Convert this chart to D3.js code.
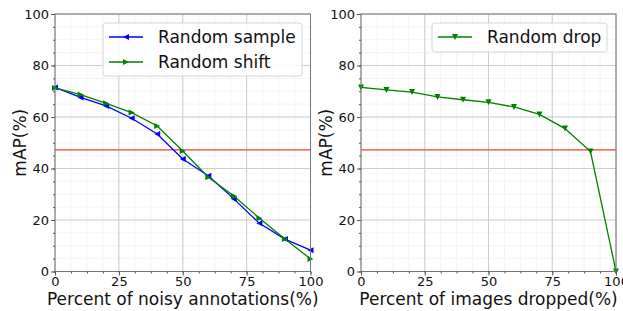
<!DOCTYPE html>
<html>
<head>
<meta charset="utf-8">
<script src="https://cdn.jsdelivr.net/npm/d3@7"></script>
<style>
  body { margin: 0; background: #fff; }
  svg { font-family: "DejaVu Sans", sans-serif; }
</style>
</head>
<body>
<svg id="chart" width="623" height="311"></svg>
<script>
// x positions (percent)
const pct = [0, 10, 20, 30, 40, 50, 60, 70, 80, 90, 100];

// left panel: noisy annotations
const randomSample = [71.5, 67.6, 64.3, 59.5, 53.4, 43.7, 37.2, 28.2, 18.7, 12.6, 8.3];
const randomShift  = [71.3, 68.7, 65.3, 61.7, 56.5, 46.8, 36.6, 29.3, 20.7, 12.6, 4.9];

// right panel: images dropped
const randomDrop = [71.5, 70.5, 69.7, 67.8, 66.7, 65.7, 63.9, 61.0, 55.5, 46.6, 0];

// baseline (red line)
const baseline = 47.2;

const xTicks = [0, 25, 50, 75, 100];
const yTicks = [0, 20, 40, 60, 80, 100];

const svg = d3.select('#chart');

const plotTop = 14, plotBottom = 271.5;
const panels = [
  { left: 55, right: 310.5, xLabel: 'Percent of noisy annotations(%)',
    series: [
      { name: 'Random sample', values: randomSample, color: '#0000ff', marker: 'left' },
      { name: 'Random shift',  values: randomShift,  color: '#008000', marker: 'right' }
    ],
    legend: { x: 103, y: 23, w: 199, h: 53 } },
  { left: 361, right: 616, xLabel: 'Percent of images dropped(%)',
    series: [
      { name: 'Random drop', values: randomDrop, color: '#008000', marker: 'down' }
    ],
    legend: { x: 432, y: 23, w: 175, h: 29 } }
];

function triangle(dir, s) {
  // small triangle path centred at 0,0
  if (dir === 'left')  return `M${-s},0L${s},${-s}L${s},${s}Z`;
  if (dir === 'right') return `M${s},0L${-s},${-s}L${-s},${s}Z`;
  return `M${-s},${-s}L${s},${-s}L0,${s}Z`;
}

panels.forEach(p => {
  const x = d3.scaleLinear().domain([0, 100]).range([p.left, p.right]);
  const y = d3.scaleLinear().domain([0, 100]).range([plotBottom, plotTop]);
  const g = svg.append('g');

  // minor grid
  const xMinor = d3.range(0, 100.01, 6.25);
  const yMinor = d3.range(0, 100.01, 5);
  g.selectAll('.xminor').data(xMinor).enter().append('line')
    .attr('x1', d => x(d)).attr('x2', d => x(d))
    .attr('y1', plotTop).attr('y2', plotBottom)
    .attr('stroke', '#ececec').attr('stroke-width', 0.6);
  g.selectAll('.yminor').data(yMinor).enter().append('line')
    .attr('x1', p.left).attr('x2', p.right)
    .attr('y1', d => y(d)).attr('y2', d => y(d))
    .attr('stroke', '#ececec').attr('stroke-width', 0.6);

  // major grid
  g.selectAll('.xmajor').data(xTicks).enter().append('line')
    .attr('x1', d => x(d)).attr('x2', d => x(d))
    .attr('y1', plotTop).attr('y2', plotBottom)
    .attr('stroke', '#c8c8c8').attr('stroke-width', 0.9);
  g.selectAll('.ymajor').data(yTicks).enter().append('line')
    .attr('x1', p.left).attr('x2', p.right)
    .attr('y1', d => y(d)).attr('y2', d => y(d))
    .attr('stroke', '#c8c8c8').attr('stroke-width', 0.9);

  // red baseline
  g.append('line')
    .attr('x1', p.left).attr('x2', p.right)
    .attr('y1', y(baseline)).attr('y2', y(baseline))
    .attr('stroke', '#e8413a').attr('stroke-width', 1.3);

  // series
  const line = d3.line().x((d, i) => x(pct[i])).y(d => y(d));
  p.series.forEach(s => {
    g.append('path').datum(s.values)
      .attr('d', line)
      .attr('fill', 'none')
      .attr('stroke', s.color)
      .attr('stroke-width', 1.3);
    g.selectAll(null).data(s.values).enter().append('path')
      .attr('transform', (d, i) => `translate(${x(pct[i])},${y(d)})`)
      .attr('d', triangle(s.marker, 3))
      .attr('fill', s.color);
  });

  // frame
  g.append('rect')
    .attr('x', p.left).attr('y', plotTop)
    .attr('width', p.right - p.left).attr('height', plotBottom - plotTop)
    .attr('fill', 'none').attr('stroke', '#777').attr('stroke-width', 1);

  // axes
  const xAxis = d3.axisBottom(x).tickValues(xTicks).tickSize(4).tickPadding(1);
  const yAxis = d3.axisLeft(y).tickValues(yTicks).tickSize(4).tickPadding(2);
  const xa = g.append('g').attr('transform', `translate(0,${plotBottom})`).call(xAxis);
  const ya = g.append('g').attr('transform', `translate(${p.left},0)`).call(yAxis);
  // minor ticks
  g.append('g').attr('transform', `translate(0,${plotBottom})`)
    .call(d3.axisBottom(x).tickValues(xMinor).tickSize(2).tickFormat(''));
  g.append('g').attr('transform', `translate(${p.left},0)`)
    .call(d3.axisLeft(y).tickValues(yMinor).tickSize(2).tickFormat(''));
  g.selectAll('.domain').remove();
  g.selectAll('.tick line').attr('stroke', '#555');
  [xa, ya].forEach(a => a.selectAll('text')
    .attr('font-size', 13).attr('fill', '#111')
    .attr('font-family', '"DejaVu Sans", sans-serif'));

  // axis labels
  g.append('text')
    .attr('x', (p.left + p.right) / 2).attr('y', 305)
    .attr('text-anchor', 'middle')
    .attr('font-size', 17).attr('fill', '#111')
    .text(p.xLabel);
  g.append('text')
    .attr('transform', `translate(${p.left - 29},${(plotTop + plotBottom) / 2}) rotate(-90)`)
    .attr('text-anchor', 'middle')
    .attr('font-size', 17).attr('fill', '#111')
    .text('mAP(%)');

  // legend
  const L = p.legend;
  const lg = g.append('g');
  lg.append('rect')
    .attr('x', L.x).attr('y', L.y).attr('width', L.w).attr('height', L.h)
    .attr('rx', 3).attr('fill', 'rgba(255,255,255,0.85)')
    .attr('stroke', '#d6d6d6');
  p.series.forEach((s, i) => {
    const cy = L.y + 14 + i * 25;
    lg.append('line')
      .attr('x1', L.x + 6).attr('x2', L.x + 40)
      .attr('y1', cy).attr('y2', cy)
      .attr('stroke', s.color).attr('stroke-width', 1.3);
    lg.append('path')
      .attr('transform', `translate(${L.x + 23},${cy})`)
      .attr('d', triangle(s.marker, 3))
      .attr('fill', s.color);
    lg.append('text')
      .attr('x', L.x + 55).attr('y', cy + 6)
      .attr('font-size', 17).attr('fill', '#111')
      .text(s.name);
  });
});
</script>
</body>
</html>
